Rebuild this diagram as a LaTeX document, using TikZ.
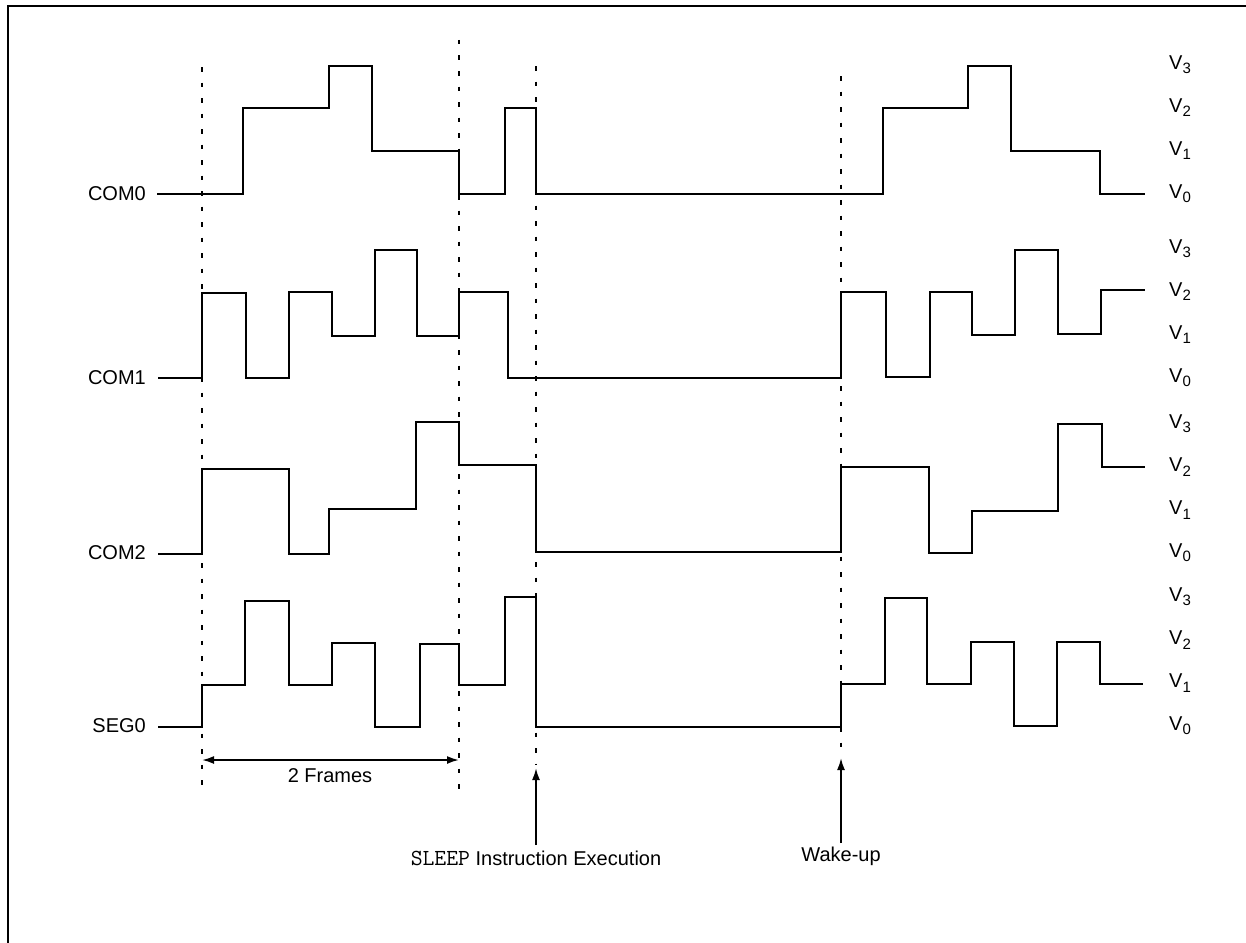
\documentclass[tikz,border=0pt]{standalone}
\usepackage{fontspec}
\setmainfont{Liberation Sans}
\usetikzlibrary{arrows.meta}

\newcommand{\lvl}[1]{V\raisebox{-0.4ex}{\fontsize{15}{15}\selectfont #1}}
\newcommand{\instr}[1]{{\fontsize{23}{24}\selectfont\ttfamily #1}}

\begin{document}
\begin{tikzpicture}[x=1pt,y=-1pt,>={Latex[length=12pt,width=8pt]},
  wave/.style={line width=2.3pt},
  guide/.style={line width=1.6pt,dash pattern=on 4.5pt off 11pt},
  marker/.style={line width=1.9pt},
  lbl/.style={font=\fontsize{20}{22}\selectfont,inner sep=0pt},
  vlbl/.style={font=\fontsize{20}{22}\selectfont,inner sep=0pt}]
  \useasboundingbox (0,0) rectangle (1246,942);
  % outer frame, only top and left edges are inside the page
  \draw[line width=2.5pt] (8,960) -- (8,6) -- (1260,6);

  % channel names
  \node[lbl,anchor=east] (com0) at (146,194) {COM0};
  \node[lbl,anchor=east] (com1) at (146,378) {COM1};
  \node[lbl,anchor=east] (com2) at (146,553) {COM2};
  \node[lbl,anchor=east] (seg0) at (146,726) {SEG0};

  % voltage levels on the right
  \foreach \b in {194,378,553,726}
    \foreach \k in {0,...,3}
      \node[vlbl] (v\b-\k) at (1180,\b-43*\k) {\lvl{\k}};

  % dashed time marks
  \coordinate (t1a) at (202,67);  \coordinate (t1b) at (202,790);
  \coordinate (t2a) at (459,40);  \coordinate (t2b) at (459,790);
  \coordinate (t3a) at (536,66);  \coordinate (t3b) at (536,764);
  \coordinate (t4a) at (841,76);  \coordinate (t4b) at (841,754);
  \draw[guide] (t1a) -- (t1b);
  \draw[guide] (t2a) -- (t2b);
  \draw[guide] (t3a) -- (t3b);
  \draw[guide] (t4a) -- (t4b);

  % waveforms
  \draw[wave] (157,194) -| (243,108) -| (329,66) -| (372,151) -| (459,194)
    -| (505,108) -| (536,194) -| (883,108) -| (968,66) -| (1011,151)
    -| (1100,194) -- (1145,194);
  \draw[wave] (158,378) -| (202,293) -| (246,378) -| (289,292) -| (332,336)
    -| (375,250) -| (417,336) -| (459,292) -| (508,378) -| (841,292)
    -| (886,377) -| (930,292) -| (972,335) -| (1015,250) -| (1058,334)
    -| (1101,290) -- (1145,290);
  \draw[wave] (158,554) -| (202,469) -| (289,554) -| (329,509) -| (416,422)
    -| (459,465) -| (536,552) -| (841,467) -| (929,553) -| (972,511)
    -| (1058,424) -| (1102,467) -- (1145,467);
  \draw[wave] (158,727) -| (202,685) -| (245,601) -| (289,685) -| (332,643)
    -| (375,727) -| (420,644) -| (459,685) -| (505,597) -| (536,727)
    -| (841,684) -| (885,598) -| (927,684) -| (971,642) -| (1014,726)
    -| (1057,642) -| (1100,684) -- (1143,684);

  % annotations
  \coordinate (fa) at (202,760);
  \coordinate (fb) at (459,760);
  \draw[marker,<->] (fa) -- (fb);
  \node[lbl] (frames) at (330,776) {2 Frames};

  \coordinate (sa) at (536,845);
  \coordinate (sb) at (536,768);
  \draw[marker,->] (sa) -- (sb);
  \node[lbl] (sleep) at (536,858) {\instr{SLEEP} Instruction Execution};

  \coordinate (wa) at (841,843);
  \coordinate (wb) at (841,758);
  \draw[marker,->] (wa) -- (wb);
  \node[lbl] (wake) at (841,856) {Wake-up};
\end{tikzpicture}
\end{document}
